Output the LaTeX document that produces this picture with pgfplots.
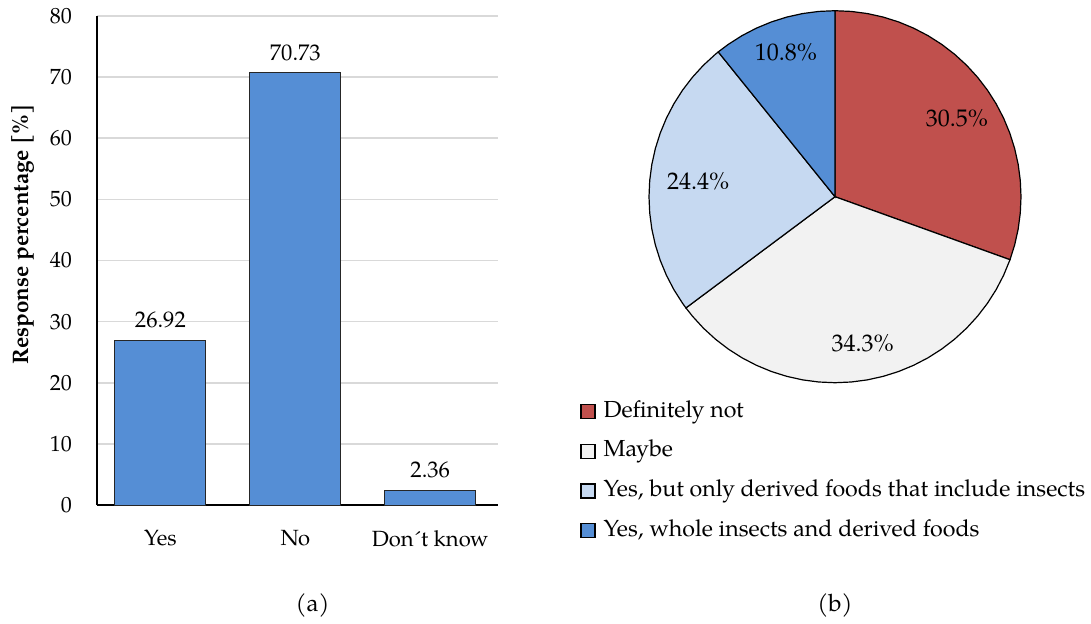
\documentclass[border=0pt]{standalone}
\usepackage{fontspec}
\setmainfont{TeX Gyre Pagella}
\usepackage{pgfplots}
\pgfplotsset{compat=1.18}
\usepgfplotslibrary{polar}
\definecolor{barblue}{HTML}{558ED5}
\definecolor{piered}{HTML}{C0504D}
\definecolor{piegray}{HTML}{F2F2F2}
\definecolor{pielight}{HTML}{C6D9F1}
\definecolor{gridgray}{HTML}{D9D9D9}
\pgfkeys{/pgf/number format/assume math mode=true}
\begin{document}
\begin{tikzpicture}
\useasboundingbox (0pt,0pt) rectangle (545.5pt,-311.5pt);
% ---------- (a) bar chart ----------
\begin{axis}[
  at={(48.5pt,-252.5pt)}, anchor=south west,
  scale only axis, width=200.35pt, height=244.5pt,
  xmin=-0.47, xmax=2.5, ymin=0, ymax=80,
  ytick={0,10,...,80},
  xtick={0,1,2}, xticklabels={Yes,No,Don´t know},
  axis x line=bottom, axis y line=left,
  axis line style={-, black, line width=0.8pt},
  major tick length=0pt,
  ymajorgrids, grid style={gridgray, line width=0.8pt},
  tick label style={font=\fontsize{11}{13}\selectfont},
  yticklabel style={xshift=-9pt},
  xticklabel style={yshift=-9pt},
  ylabel={\textbf{Response percentage [\%]}},
  ylabel style={at={(axis description cs:-0.185,0.554)}, anchor=center, font=\fontsize{11.2}{13}\selectfont},
  ybar, bar width=0.674,
  nodes near coords, point meta=explicit symbolic,
  every node near coord/.append style={font=\fontsize{11.3}{13}\selectfont, yshift=2.5pt},
  clip=false,
]
\addplot[fill=barblue, draw=black!85, line width=0.5pt] coordinates {(0,26.92)[26.92] (1,70.73)[70.73] (2,2.36)[2.36]};
\end{axis}
% ---------- (b) pie chart ----------
\begin{polaraxis}[
  at={(417.5pt,-98.35pt)}, anchor=center,
  scale only axis, width=186pt, height=186pt,
  hide axis, ymin=0, ymax=1, clip=false,
  legend cell align=left,
  legend image code/.code={\draw[#1, line width=0.6pt] (0pt,-3.5pt) rectangle (7pt,3.5pt);},
  legend style={at={(axis description cs:-0.1855,-0.041)}, anchor=north west, draw=none, fill=none,
    inner sep=0pt, font=\fontsize{11.6}{13}\selectfont,
    nodes={inner sep=1.5pt, text height=8pt, text depth=2.5pt},
    /tikz/every odd column/.append style={column sep=2.5pt},
    row sep=6.3pt},
]
\addplot[fill=piered, draw=black, line width=0.6pt] coordinates {(0,0) (90,1) (85,1) (80,1) (75,1) (70,1) (65,1) (60,1) (55,1) (50,1) (45,1) (40,1) (35,1) (30,1) (25,1) (20,1) (15,1) (10,1) (5,1) (0,1) (-5,1) (-10,1) (-15,1) (-19.8,1)} -- cycle;
\addlegendentry{Definitely not}
\addplot[fill=piegray, draw=black, line width=0.6pt] coordinates {(0,0) (-19.8,1) (-25,1) (-30,1) (-35,1) (-40,1) (-45,1) (-50,1) (-55,1) (-60,1) (-65,1) (-70,1) (-75,1) (-80,1) (-85,1) (-90,1) (-95,1) (-100,1) (-105,1) (-110,1) (-115,1) (-120,1) (-125,1) (-130,1) (-135,1) (-140,1) (-143.28,1)} -- cycle;
\addlegendentry{Maybe}
\addplot[fill=pielight, draw=black, line width=0.6pt] coordinates {(0,0) (-143.28,1) (-145,1) (-150,1) (-155,1) (-160,1) (-165,1) (-170,1) (-175,1) (-180,1) (-185,1) (-190,1) (-195,1) (-200,1) (-205,1) (-210,1) (-215,1) (-220,1) (-225,1) (-230,1) (-231.12,1)} -- cycle;
\addlegendentry{Yes, but only derived foods that include insects}
\addplot[fill=barblue, draw=black, line width=0.6pt] coordinates {(0,0) (128.88,1) (125,1) (120,1) (115,1) (110,1) (105,1) (100,1) (95,1) (90,1)} -- cycle;
\addlegendentry{Yes, whole insects and derived foods}
\addplot[draw=none, mark=none, nodes near coords, point meta=explicit symbolic,
  every node near coord/.style={anchor=center, font=\fontsize{12}{14}\selectfont}, forget plot]
  coordinates {(32.8,0.78)[30.5\%] (-79.3,0.80)[34.3\%] (173.7,0.74)[24.4\%] (108.8,0.82)[10.8\%]};
\end{polaraxis}
\node[font=\fontsize{12}{14}\selectfont] at (156.25pt,-302.5pt) {(a)};
\node[font=\fontsize{12}{14}\selectfont] at (417.5pt,-302.5pt) {(b)};
\end{tikzpicture}
\end{document}
